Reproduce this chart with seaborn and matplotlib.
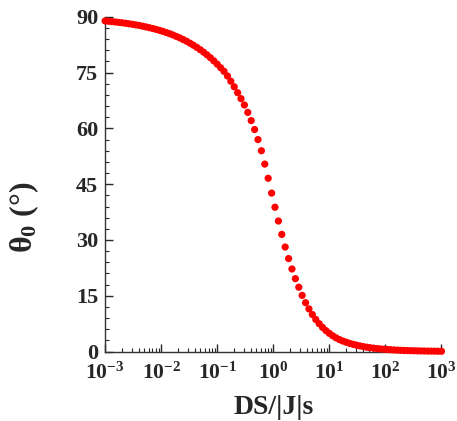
import matplotlib
matplotlib.use("Agg")
import matplotlib.pyplot as plt
import matplotlib.ticker as mticker
import seaborn as sns
import numpy as np
import pandas as pd

# log10(DS/|J|) of each point (100 points, -3 .. 3)
log_ds_j = [
    -3.000, -2.939, -2.879, -2.818, -2.758, -2.697, -2.636, -2.576, -2.515, -2.455,
    -2.394, -2.333, -2.273, -2.212, -2.152, -2.091, -2.030, -1.970, -1.909, -1.848,
    -1.788, -1.727, -1.667, -1.606, -1.545, -1.485, -1.424, -1.364, -1.303, -1.242,
    -1.182, -1.121, -1.061, -1.000, -0.939, -0.879, -0.818, -0.758, -0.697, -0.636,
    -0.576, -0.515, -0.455, -0.394, -0.333, -0.273, -0.212, -0.152, -0.091, -0.030,
    0.030, 0.091, 0.152, 0.212, 0.273, 0.333, 0.394, 0.455, 0.515, 0.576,
    0.636, 0.697, 0.758, 0.818, 0.879, 0.939, 1.000, 1.061, 1.121, 1.182,
    1.242, 1.303, 1.364, 1.424, 1.485, 1.545, 1.606, 1.667, 1.727, 1.788,
    1.848, 1.909, 1.970, 2.030, 2.091, 2.152, 2.212, 2.273, 2.333, 2.394,
    2.455, 2.515, 2.576, 2.636, 2.697, 2.758, 2.818, 2.879, 2.939, 3.000,
]

# theta_0 in degrees
theta0 = [
    88.90, 88.81, 88.72, 88.62, 88.51, 88.40, 88.28, 88.14, 88.00, 87.84,
    87.68, 87.50, 87.30, 87.09, 86.87, 86.63, 86.37, 86.09, 85.78, 85.46,
    85.11, 84.73, 84.33, 83.89, 83.42, 82.91, 82.37, 81.79, 81.16, 80.49,
    79.77, 78.99, 78.16, 77.27, 76.32, 75.35, 74.10, 72.70, 71.20, 69.60,
    68.00, 66.30, 64.30, 62.10, 59.70, 57.00, 54.00, 50.40, 46.60, 42.60,
    38.80, 35.10, 31.50, 28.10, 25.00, 22.20, 19.60, 17.30, 15.10, 13.13,
    11.46, 9.95, 8.63, 7.49, 6.49, 5.63, 4.89, 4.23, 3.67, 3.20,
    2.82, 2.49, 2.19, 1.94, 1.71, 1.51, 1.33, 1.17, 1.03, 0.91,
    0.80, 0.71, 0.63, 0.55, 0.49, 0.43, 0.38, 0.33, 0.29, 0.26,
    0.23, 0.20, 0.18, 0.16, 0.14, 0.12, 0.11, 0.10, 0.08, 0.07,
]

y_ticks = [0, 15, 30, 45, 60, 75, 90]
x_ticks = [1e-3, 1e-2, 1e-1, 1e0, 1e1, 1e2, 1e3]

df = pd.DataFrame({"ds_j": np.power(10.0, log_ds_j), "theta0": theta0})

sns.set_style("ticks")
plt.rcParams["font.family"] = ["Liberation Serif", "DejaVu Serif"]
plt.rcParams["mathtext.fontset"] = "custom"
plt.rcParams["mathtext.rm"] = "Liberation Serif:bold"
plt.rcParams["mathtext.it"] = "Liberation Serif:italic"
plt.rcParams["mathtext.bf"] = "Liberation Serif:bold"

fig = plt.figure(figsize=(4.57, 4.21), dpi=100)
ax = fig.add_axes([0.230, 0.165, 0.736, 0.795])

sns.scatterplot(data=df, x="ds_j", y="theta0", ax=ax, color="#ff0000",
                s=27, edgecolor="none", legend=False, zorder=3, clip_on=False)

ax.set_xscale("log")
ax.set_xlim(1e-3, 1e3)
ax.set_ylim(0, 90)
ax.set_xticks(x_ticks)
ax.xaxis.set_major_formatter(mticker.FuncFormatter(
    lambda v, p: r"$\mathbf{10^{%d}}$" % int(round(np.log10(v)))))
ax.xaxis.set_minor_locator(mticker.LogLocator(base=10, subs=np.arange(2, 10), numticks=20))
ax.xaxis.set_minor_formatter(mticker.NullFormatter())
ax.set_yticks(y_ticks)
ax.yaxis.set_minor_locator(mticker.MultipleLocator(3))

ax.tick_params(which="major", direction="in", length=6, width=1)
ax.tick_params(which="minor", direction="in", length=3, width=0.8)
ax.tick_params(axis="x", which="major", labelsize=15.5, pad=8)
ax.tick_params(axis="y", which="major", labelsize=16, pad=5)
for lab in ax.get_yticklabels():
    lab.set_fontweight("bold")

for side in ["top", "right"]:
    ax.spines[side].set_visible(False)
for side in ["left", "bottom"]:
    ax.spines[side].set_linewidth(1)
    ax.spines[side].set_color("#333333")

ax.set_xlabel("DS/|J|s", fontsize=20, fontweight="bold")
ax.xaxis.set_label_coords(0.50, -0.13)
ax.set_ylabel("θ$_0$ (°)", fontsize=23, fontweight="bold")
ax.yaxis.set_label_coords(-0.19, 0.40)

fig.savefig("out.png", dpi=100)
